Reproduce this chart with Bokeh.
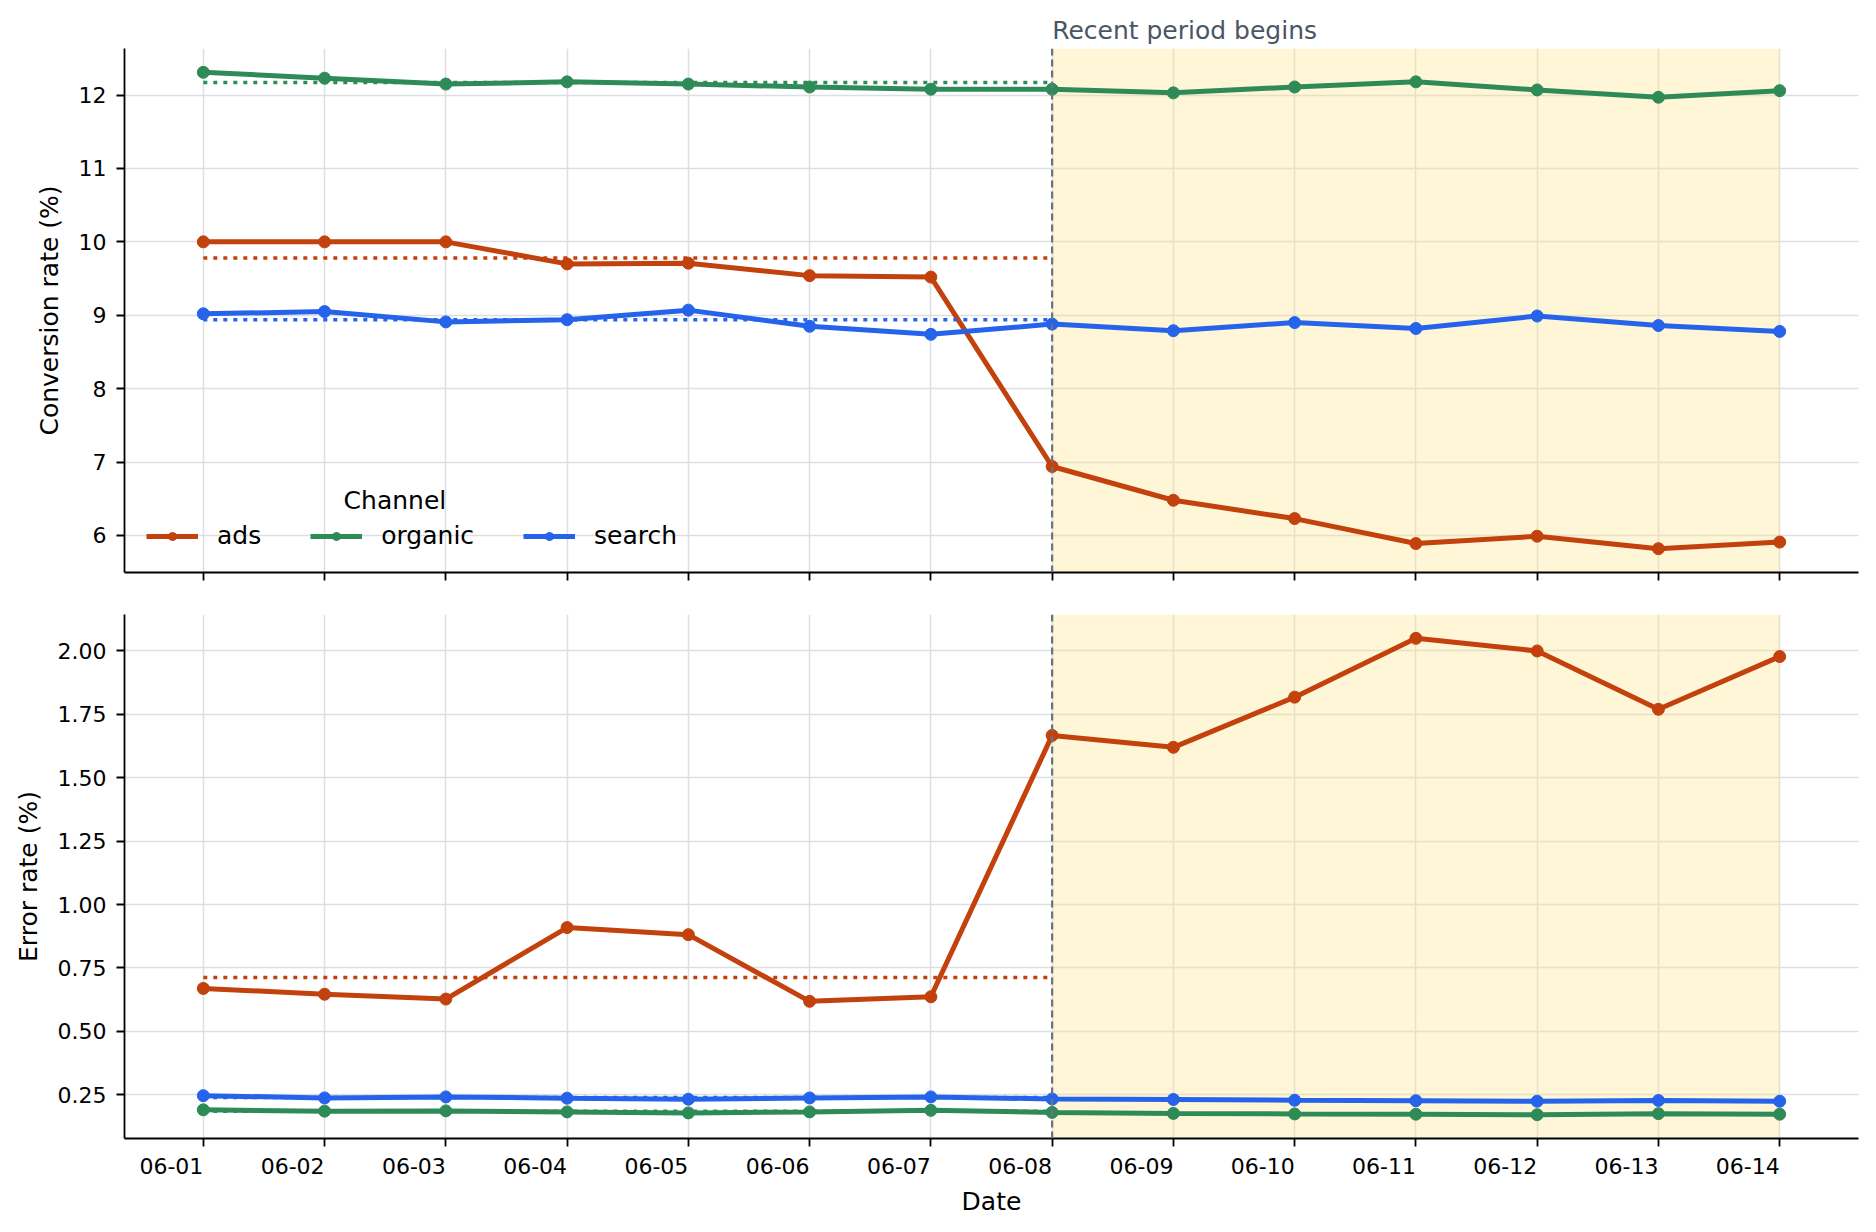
import numpy as np

from bokeh.embed import file_html
from bokeh.layouts import column
from bokeh.models import BoxAnnotation, FixedTicker, Label, NumeralTickFormatter, Range1d, Span
from bokeh.plotting import figure
from bokeh.resources import INLINE


# x axis: one point per day
dates = ["06-01", "06-02", "06-03", "06-04", "06-05", "06-06", "06-07",
         "06-08", "06-09", "06-10", "06-11", "06-12", "06-13", "06-14"]
recent_start = "06-08"

channels = ["ads", "organic", "search"]
colors = {"ads": "#c2410c", "organic": "#2e8b57", "search": "#2563eb"}

# conversion rate (%) per channel
conversion_ads = [10.00, 10.00, 10.00, 9.70, 9.71, 9.54, 9.52,
                  6.94, 6.48, 6.23, 5.89, 5.99, 5.82, 5.91]
conversion_organic = [12.31, 12.23, 12.15, 12.18, 12.15, 12.11, 12.08,
                      12.08, 12.03, 12.11, 12.18, 12.07, 11.97, 12.06]
conversion_search = [9.02, 9.05, 8.91, 8.94, 9.07, 8.85, 8.74,
                     8.88, 8.79, 8.90, 8.82, 8.99, 8.86, 8.78]

# error rate (%) per channel
error_ads = [0.669, 0.646, 0.627, 0.909, 0.881, 0.618, 0.636,
             1.667, 1.620, 1.818, 2.050, 2.000, 1.770, 1.978]
error_organic = [0.190, 0.185, 0.186, 0.182, 0.178, 0.182, 0.188,
                 0.180, 0.176, 0.174, 0.173, 0.171, 0.175, 0.173]
error_search = [0.246, 0.237, 0.241, 0.236, 0.232, 0.237, 0.241,
                0.233, 0.231, 0.228, 0.226, 0.224, 0.227, 0.224]

FONT = "DejaVu Sans"
TICK_SIZE = "22px"
LABEL_SIZE = "25px"
GRID_COLOR = "#dcdee3"

x = list(range(len(dates)))
split = dates.index(recent_start)
pad = 0.05 * (len(dates) - 1)
x_range = Range1d(-pad, len(dates) - 1 + pad)


def data_range(series):
    lo = min(min(s) for s in series)
    hi = max(max(s) for s in series)
    m = 0.05 * (hi - lo)
    return Range1d(lo - m, hi + m)


def make_panel(series, y_label, height, border_top, border_bottom, show_dates):
    p = figure(
        width=1860,
        height=height,
        x_range=x_range,
        y_range=data_range(list(series.values())),
        output_backend="svg",
        toolbar_location=None,
        min_border_left=124,
        min_border_right=2,
        min_border_top=border_top,
        min_border_bottom=border_bottom,
        background_fill_color="white",
    )
    p.outline_line_color = None

    # shaded recent period and its start marker
    p.add_layout(BoxAnnotation(left=split, right=len(dates) - 1, fill_color="#fde68a",
                               fill_alpha=0.35, line_color=None, level="underlay"))
    p.add_layout(Span(location=split, dimension="height", line_color="#6b7280",
                      line_width=2.2, line_dash="7 4"))

    for name in channels:
        vals = series[name]
        # dotted line: mean of the baseline period
        baseline = float(np.mean(vals[:split]))
        p.line([0, split], [baseline, baseline], line_color=colors[name],
               line_width=3.5, line_dash="4 6")
        kw = {} if show_dates else {"legend_label": name}
        p.line(x, vals, line_color=colors[name], line_width=5, **kw)
        p.scatter(x, vals, size=12, color=colors[name], **kw)

    p.xgrid.grid_line_color = GRID_COLOR
    p.ygrid.grid_line_color = GRID_COLOR
    p.xgrid.grid_line_width = 1.5
    p.ygrid.grid_line_width = 1.5

    for ax in (p.xaxis, p.yaxis):
        ax.axis_line_color = "black"
        ax.axis_line_width = 1.8
        ax.major_tick_line_color = "black"
        ax.major_tick_line_width = 1.8
        ax.major_tick_out = 8
        ax.major_tick_in = 0
        ax.minor_tick_line_color = None
        ax.major_label_text_font = FONT
        ax.major_label_text_font_size = TICK_SIZE
        ax.major_label_text_color = "black"
        ax.axis_label_text_font = FONT
        ax.axis_label_text_font_size = LABEL_SIZE
        ax.axis_label_text_font_style = "normal"
        ax.axis_label_text_color = "black"
        ax.major_label_standoff = 10
        ax.axis_label_standoff = 12

    p.xaxis.ticker = FixedTicker(ticks=x)
    if show_dates:
        p.xaxis.major_label_overrides = {i: d for i, d in enumerate(dates)}
        # a tiny angle makes the date labels end at their tick, as in the source
        p.xaxis.major_label_orientation = 1e-4
        p.xaxis.major_label_standoff = 19
        p.xaxis.axis_label = "Date"
        p.xaxis.axis_label_standoff = 2
    else:
        p.xaxis.major_label_overrides = {i: "" for i in x}
        p.xaxis.major_label_standoff = 0

    p.yaxis.axis_label = y_label
    return p


top = make_panel(
    {"ads": conversion_ads, "organic": conversion_organic, "search": conversion_search},
    "Conversion rate (%)", 592, 48, 20, False,
)
top.yaxis.ticker = FixedTicker(ticks=[6, 7, 8, 9, 10, 11, 12])

# annotation over the start of the recent period, placed via the title
frame_width = 1860 - 124 - 2
top.title.text = "Recent period begins"
top.title.align = "left"
top.title.offset = (split - x_range.start) / (x_range.end - x_range.start) * frame_width
top.title.text_font = FONT
top.title.text_font_size = LABEL_SIZE
top.title.text_font_style = "normal"
top.title.text_color = "#4b5563"
top.title.standoff = 8

# legend: horizontal, no frame, lower left
top.legend.orientation = "horizontal"
top.legend.location = (22, 22)
top.legend.background_fill_alpha = 0
top.legend.border_line_color = None
top.legend.padding = 0
top.legend.margin = 0
top.legend.spacing = 49
top.legend.glyph_width = 52
top.legend.label_standoff = 19
top.legend.label_text_font = FONT
top.legend.label_text_font_size = LABEL_SIZE
top.legend.label_text_color = "black"
top.add_layout(Label(x=1.58, y=6.47, text="Channel", text_font=FONT, text_color="black",
                     text_font_size=LABEL_SIZE, text_align="center", text_baseline="middle"))

bottom = make_panel(
    {"ads": error_ads, "organic": error_organic, "search": error_search},
    "Error rate (%)", 626, 22, 80, True,
)
bottom.yaxis.ticker = FixedTicker(ticks=[0.25, 0.5, 0.75, 1.0, 1.25, 1.5, 1.75, 2.0])
bottom.yaxis.formatter = NumeralTickFormatter(format="0.00")

layout = column(top, bottom, spacing=0)
open("out.html", "w").write(file_html(layout, INLINE))
